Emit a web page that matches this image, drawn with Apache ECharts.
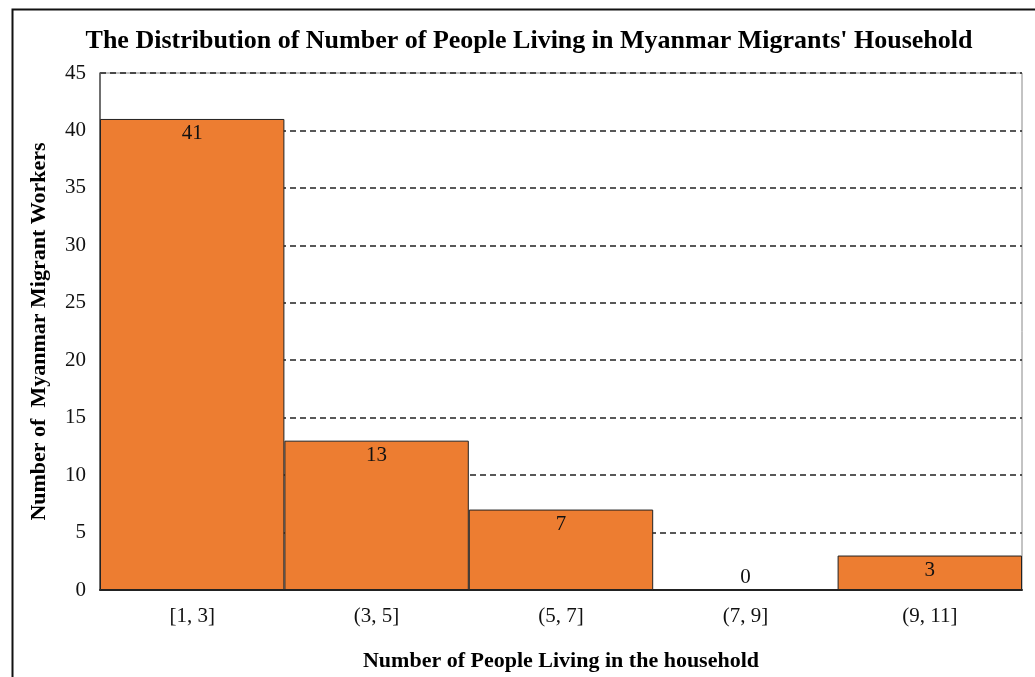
<!DOCTYPE html>
<html>
<head>
<meta charset="utf-8">
<script src="https://cdn.jsdelivr.net/npm/echarts@6/dist/echarts.min.js"></script>
<style>
  html, body { margin: 0; padding: 0; background: #fff; }
  #chart { width: 1035px; height: 677px; }
</style>
</head>
<body>
<div id="chart"></div>
<script>
const categories = ['[1, 3]', '(3, 5]', '(5, 7]', '(7, 9]', '(9, 11]'];
const counts = [41, 13, 7, 0, 3];
const yTicks = { min: 0, max: 45, interval: 5 };

const font = 'Liberation Serif';

const chart = echarts.init(document.getElementById('chart'));

// the empty bin gets its label above the baseline
const barData = counts.map(v => ({
    value: v,
    label: v === 0 ? { position: 'top', distance: 2 } : {}
}));

chart.setOption({
    backgroundColor: '#fff',
    animation: false,
    graphic: [{
        type: 'rect',
        left: 10, top: 7,
        shape: { width: 1040, height: 690 },
        style: { fill: 'none', stroke: '#111', lineWidth: 2 },
        silent: true
    }],
    title: {
        text: "The Distribution of Number of People Living in Myanmar Migrants' Household",
        left: 524,
        textAlign: 'center',
        top: 23,
        textStyle: { fontFamily: font, fontWeight: 'bold', fontSize: 26, color: '#000' }
    },
    grid: {
        left: 100, right: 13, top: 73, bottom: 86,
        show: true, borderColor: '#888', borderWidth: 1
    },
    xAxis: {
        type: 'category',
        data: categories,
        name: 'Number of People Living in the household',
        nameLocation: 'middle',
        nameGap: 60,
        nameTextStyle: { fontFamily: font, fontWeight: 'bold', fontSize: 22, color: '#000' },
        axisLine: { lineStyle: { color: '#222', width: 2 } },
        axisTick: { show: false },
        axisLabel: { fontFamily: font, fontSize: 21, color: '#111', margin: 16 }
    },
    yAxis: {
        type: 'value',
        min: yTicks.min, max: yTicks.max, interval: yTicks.interval,
        name: 'Number of  Myanmar Migrant Workers',
        nameLocation: 'middle',
        nameGap: 50,
        nameTextStyle: { fontFamily: font, fontWeight: 'bold', fontSize: 22, color: '#000' },
        axisLine: { show: true, lineStyle: { color: '#555', width: 1.5 } },
        axisTick: { show: false },
        axisLabel: { fontFamily: font, fontSize: 21, color: '#111', margin: 14 },
        splitLine: { lineStyle: { color: '#222', width: 1.5, type: [6, 4] } }
    },
    series: [{
        type: 'bar',
        data: barData,
        barCategoryGap: '0%',
        itemStyle: { color: '#ED7D31', borderColor: '#222', borderWidth: 1 },
        label: {
            show: true,
            position: 'insideTop',
            distance: 4,
            fontFamily: font,
            fontSize: 21,
            color: '#111'
        }
    }]
});

window.addEventListener('resize', () => chart.resize());
</script>
</body>
</html>
